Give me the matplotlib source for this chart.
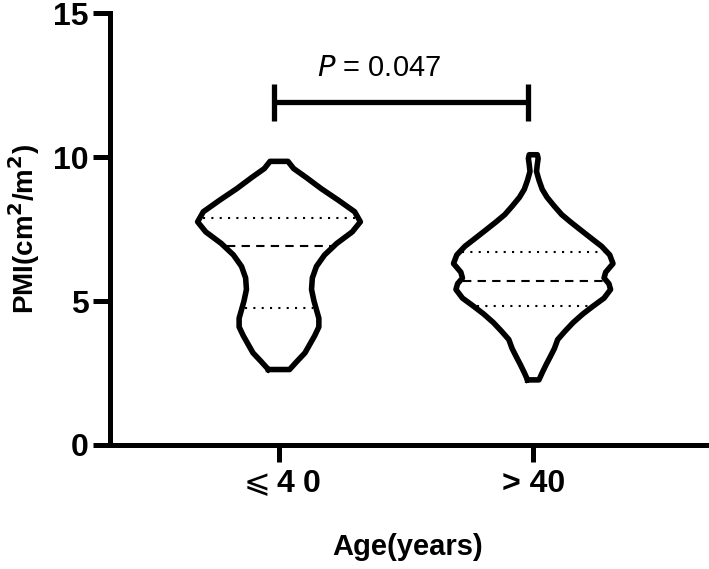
import numpy as np
import matplotlib
matplotlib.use("Agg")
import matplotlib.pyplot as plt

plt.rcParams['font.family'] = ['Liberation Sans', 'DejaVu Sans']

# Data
groups = ['$\\leqslant$4 0', '> 40']

# violin profiles: PMI level and relative density (max = 1)
v1_y = [2.62, 2.9, 3.2, 3.5, 3.8, 4.1, 4.4, 4.7, 5.0, 5.4, 5.8, 6.2, 6.6, 7.0,
        7.4, 7.75, 8.1, 8.5, 8.9, 9.3, 9.6, 9.85]
v1_d = [0.13, 0.22, 0.32, 0.38, 0.44, 0.49, 0.49, 0.46, 0.43, 0.40, 0.41, 0.46,
        0.56, 0.71, 0.90, 1.0, 0.93, 0.73, 0.52, 0.33, 0.18, 0.11]

v2_y = [2.26, 2.51, 2.8, 3.07, 3.35, 3.66, 3.95, 4.25, 4.55, 4.81, 5.1, 5.4, 5.6,
        5.8, 6.0, 6.3, 6.6, 6.9, 7.14, 7.45, 7.74, 8.0, 8.29, 8.6, 8.88, 9.2,
        9.5, 9.75, 9.95, 10.08]
v2_d = [0.07, 0.11, 0.16, 0.21, 0.26, 0.30, 0.39, 0.49, 0.61, 0.73, 0.87, 0.95,
        0.93, 0.87, 0.89, 0.98, 0.94, 0.84, 0.73, 0.59, 0.46, 0.35, 0.26, 0.17,
        0.11, 0.07, 0.04, 0.05, 0.06, 0.05]

# quartiles (Q1, median, Q3)
quart1 = [4.74, 6.90, 7.87]
quart2 = [4.81, 5.71, 6.69]

p_text = '0.047'

fig = plt.figure(figsize=(7.09, 5.69), dpi=100)
ax = fig.add_axes([0.155, 0.218, 0.841, 0.759])

half_w = 0.32
lw = 4.0
profiles = [(v1_y, v1_d, quart1), (v2_y, v2_d, quart2)]
for i, (ys, ds, qs) in enumerate(profiles):
    ys = np.array(ys)
    hw = np.array(ds) * half_w
    xs = np.concatenate([i - hw, (i + hw)[::-1], [i - hw[0]]])
    yy = np.concatenate([ys, ys[::-1], [ys[0]]])
    ax.fill(xs, yy, color='white', zorder=2)
    ax.plot(xs, yy, color='black', lw=lw, solid_joinstyle='round', zorder=4)
    for j, q in enumerate(qs):
        w = np.interp(q, ys, hw) - 0.012
        ls = (0, (4, 3)) if j == 1 else (0, (1, 3))
        ax.plot([i - w, i + w], [q, q], color='black', lw=1.5, ls=ls, zorder=3)

# significance bracket
ax.plot([-0.02, 0.98], [11.9, 11.9], color='black', lw=3.8, solid_capstyle='butt')
ax.plot([-0.02, -0.02], [11.25, 12.55], color='black', lw=3.8, solid_capstyle='butt')
ax.plot([0.98, 0.98], [11.25, 12.55], color='black', lw=3.8, solid_capstyle='butt')
ax.text(0.395, 12.8, '$\\it{P}$ = ' + p_text, ha='center', va='baseline', fontsize=21)

ax.set_xlim(-0.665, 1.68)
ax.set_ylim(0, 15)
ax.set_yticks([0, 5, 10, 15])
ax.set_xticks([0, 1])
ax.set_xticklabels(groups)
for s in ['top', 'right']:
    ax.spines[s].set_visible(False)
for s in ['left', 'bottom']:
    ax.spines[s].set_linewidth(3.6)
ax.tick_params(axis='both', length=12.5, width=3.6, labelsize=23, pad=3)
for lab in ax.get_xticklabels() + ax.get_yticklabels():
    lab.set_fontweight('bold')
ax.tick_params(axis='x', pad=5)

ax.set_ylabel('PMI(cm$^\\mathbf{2}$/m$^\\mathbf{2}$)', fontsize=20, fontweight='bold', labelpad=8)
ax.set_xlabel('Age(years)', fontsize=21, fontweight='bold', labelpad=24)

fig.savefig('out.png', dpi=100)
